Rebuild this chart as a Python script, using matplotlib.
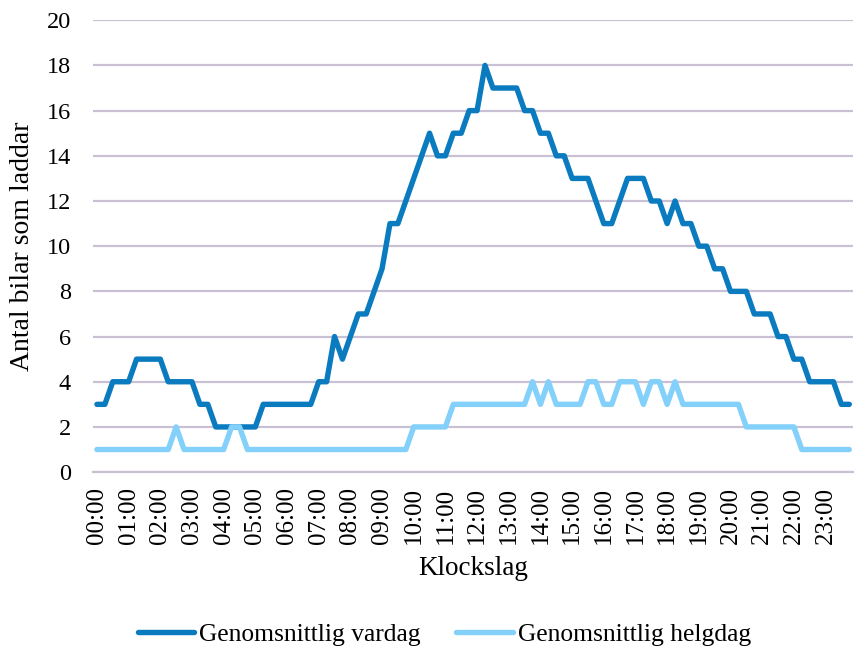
import matplotlib
matplotlib.use("Agg")
import matplotlib.pyplot as plt
import numpy as np

# %%
plt.rcParams['font.family'] = ['Liberation Serif', 'DejaVu Serif']

# kvartsvärden 00:00 - 23:45
vardag = [3, 3, 4, 4, 4, 5, 5, 5, 5, 4, 4, 4, 4, 3, 3, 2,
          2, 2, 2, 2, 2, 3, 3, 3, 3, 3, 3, 3, 4, 4, 6, 5,
          6, 7, 7, 8, 9, 11, 11, 12, 13, 14, 15, 14, 14, 15, 15, 16,
          16, 18, 17, 17, 17, 17, 16, 16, 15, 15, 14, 14, 13, 13, 13, 12,
          11, 11, 12, 13, 13, 13, 12, 12, 11, 12, 11, 11, 10, 10, 9, 9,
          8, 8, 8, 7, 7, 7, 6, 6, 5, 5, 4, 4, 4, 4, 3, 3]
helgdag = [1, 1, 1, 1, 1, 1, 1, 1, 1, 1, 2, 1, 1, 1, 1, 1,
           1, 2, 2, 1, 1, 1, 1, 1, 1, 1, 1, 1, 1, 1, 1, 1,
           1, 1, 1, 1, 1, 1, 1, 1, 2, 2, 2, 2, 2, 3, 3, 3,
           3, 3, 3, 3, 3, 3, 3, 4, 3, 4, 3, 3, 3, 3, 4, 4,
           3, 3, 4, 4, 4, 3, 4, 4, 3, 4, 3, 3, 3, 3, 3, 3,
           3, 3, 2, 2, 2, 2, 2, 2, 2, 1, 1, 1, 1, 1, 1, 1]
timmar = ['00:00', '01:00', '02:00', '03:00', '04:00', '05:00', '06:00', '07:00',
          '08:00', '09:00', '10:00', '11:00', '12:00', '13:00', '14:00', '15:00',
          '16:00', '17:00', '18:00', '19:00', '20:00', '21:00', '22:00', '23:00']
y_ticks = [0, 2, 4, 6, 8, 10, 12, 14, 16, 18, 20]

# %%
fig = plt.figure(figsize=(8.61, 6.53), dpi=100)
ax = fig.add_axes([0.108, 0.277, 0.883, 0.692])

x = np.arange(len(vardag))
ax.plot(x, vardag, color='#0B7BC0', lw=3.9, solid_joinstyle='round',
        solid_capstyle='round', label='Genomsnittlig vardag', zorder=3)
ax.plot(x, helgdag, color='#83D1FB', lw=3.9, solid_joinstyle='round',
        solid_capstyle='round', label='Genomsnittlig helgdag', zorder=4)

ax.set_xlim(-0.5, len(vardag) - 0.5)
ax.set_ylim(0, 20)
ax.set_yticks(y_ticks)
ax.set_xticks(np.arange(0, len(vardag), 4))
ax.set_xticklabels(timmar, rotation=90)
ax.tick_params(axis='y', length=0, pad=16, labelsize=17.5)
ax.tick_params(axis='x', length=0, pad=11, labelsize=18)
ax.yaxis.grid(True, color='#C9C1D3', lw=1.6, zorder=0)
ax.set_axisbelow(True)
for s in ['top', 'right', 'left']:
    ax.spines[s].set_visible(False)
ax.spines['bottom'].set_color('#C9C1D3')
ax.spines['bottom'].set_linewidth(1.6)

ax.set_xlabel('Klockslag', fontsize=19.5, labelpad=8)
ax.set_ylabel('Antal bilar som laddar', fontsize=20, labelpad=8)

fig.legend(loc='center', bbox_to_anchor=(0.516, 0.029), ncol=2, frameon=False,
           fontsize=18.4, handlelength=2.2, handletextpad=0.2, columnspacing=1.4)

fig.savefig('out.png', dpi=100)
